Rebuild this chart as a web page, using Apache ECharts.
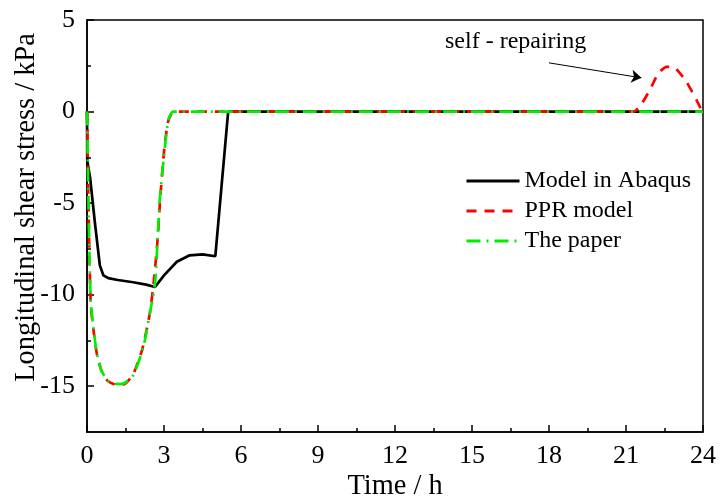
<!DOCTYPE html>
<html>
<head>
<meta charset="utf-8">
<script src="https://cdn.jsdelivr.net/npm/echarts@6/dist/echarts.min.js"></script>
<style>html,body{margin:0;padding:0;background:#fff}#c{width:721px;height:503px}</style>
</head>
<body>
<div id="c"></div>
<script>
// Time (h) / stress (kPa) pairs
var abaqusT = [0, 0.01, 0.12, 0.31, 0.5, 0.64, 0.83, 1.2, 1.8, 2.3, 2.65, 3.0, 3.5, 4.0, 4.5, 5.0, 5.5, 24];
var abaqusV = [0, -2.7, -3.6, -6.1, -8.4, -8.95, -9.1, -9.2, -9.32, -9.45, -9.58, -8.95, -8.2, -7.85, -7.8, -7.9, 0, 0];

var pprT = [0, 0.03, 0.06, 0.1, 0.15, 0.25, 0.38, 0.55, 0.8, 1.22, 1.5, 1.8, 2.15, 2.45, 2.6, 2.75, 2.85, 3.0, 3.15, 3.3, 3.5, 21.3, 21.6, 21.92, 22.26, 22.58, 22.84, 23.1, 23.36, 23.75, 24];
var pprV = [0, -2.4, -5.2, -8.2, -10.6, -11.9, -13.2, -14.1, -14.7, -14.96, -14.85, -14.35, -13.0, -11.0, -9.3, -7.0, -4.8, -2.2, -0.6, -0.1, 0, 0, 0.4, 1.16, 2.08, 2.44, 2.44, 2.1, 1.62, 0.62, -0.1];

var paperT = [0, 0.03, 0.06, 0.1, 0.15, 0.25, 0.38, 0.55, 0.8, 1.1, 1.41, 1.8, 2.19, 2.45, 2.65, 2.75, 2.84, 3.04, 3.17, 3.36, 24];
var paperV = [0, -2.5, -5.0, -8.0, -10.5, -11.8, -13.2, -14.1, -14.7, -14.88, -14.86, -14.4, -12.9, -11.0, -9.4, -7.0, -4.7, -1.9, -0.47, 0, 0];

var xTicks = [0, 3, 6, 9, 12, 15, 18, 21, 24];
var yTicks = [-15, -10, -5, 0, 5];
var yMinorTicks = [-12.5, -7.5, -2.5, 2.5];

var seriesNames = ['Model in Abaqus', 'PPR model', 'The paper'];
var annotationText = 'self - repairing';
var arrowFrom = [18.0, 2.66];
var arrowTo = [21.6, 1.84];

function pairs(t, v) { return t.map(function (x, i) { return [x, v[i]]; }); }

var FONT = 'Liberation Serif';
var chart = echarts.init(document.getElementById('c'), null, { renderer: 'canvas' });

chart.setOption({
  animation: false,
  backgroundColor: '#fff',
  textStyle: { fontFamily: FONT, color: '#000' },
  grid: { left: 87, right: 18, top: 20, bottom: 71, show: true, borderColor: '#000', borderWidth: 1.5, backgroundColor: 'transparent' },
  xAxis: {
    type: 'value', min: 0, max: 24, interval: 3,
    axisLine: { onZero: false, lineStyle: { color: '#000', width: 1.5 } },
    axisTick: { inside: true, length: 7, lineStyle: { color: '#000', width: 1.5 } },
    minorTick: { show: true, splitNumber: 2, length: 4, lineStyle: { color: '#000', width: 1.5 } },
    splitLine: { show: false },
    axisLabel: { fontFamily: FONT, fontSize: 26, color: '#000', margin: 11, customValues: xTicks }
  },
  yAxis: [{
    type: 'value', min: -17.5, max: 5,
    axisLine: { show: true, onZero: false, lineStyle: { color: '#000', width: 1.5 } },
    axisTick: { show: true, inside: true, length: 7, customValues: yTicks, lineStyle: { color: '#000', width: 1.5 } },
    splitLine: { show: false },
    axisLabel: { fontFamily: FONT, fontSize: 26, color: '#000', margin: 12, customValues: yTicks }
  }, {
    type: 'value', min: -17.5, max: 5, position: 'left',
    axisLine: { show: false },
    axisTick: { show: true, inside: true, length: 4, customValues: yMinorTicks, lineStyle: { color: '#000', width: 1.5 } },
    splitLine: { show: false },
    axisLabel: { show: false }
  }],
  legend: {
    orient: 'vertical', left: 460, top: 164,
    itemWidth: 53, itemHeight: 14, itemGap: 6,
    itemStyle: { opacity: 0 },
    lineStyle: { width: 3 },
    textStyle: { fontFamily: FONT, fontSize: 24, color: '#000' },
    data: seriesNames
  },
  series: [{
    name: seriesNames[0], type: 'line', showSymbol: false, symbol: 'none',
    data: pairs(abaqusT, abaqusV),
    lineStyle: { color: '#000', width: 2.7 }, itemStyle: { color: '#000' }, z: 2,
    markLine: {
      silent: true, animation: false,
      symbol: ['none', 'arrow'], symbolSize: 10,
      label: { show: false },
      lineStyle: { color: '#000', width: 1, type: 'solid' },
      emphasis: { disabled: true },
      data: [[{ coord: arrowFrom }, { coord: arrowTo }]]
    }
  }, {
    name: seriesNames[1], type: 'line', showSymbol: false, symbol: 'none',
    data: pairs(pprT, pprV), smooth: 0.2,
    lineStyle: { color: '#ff0000', width: 2.7, type: [10, 8] }, itemStyle: { color: '#ff0000' }, z: 3
  }, {
    name: seriesNames[2], type: 'line', showSymbol: false, symbol: 'none',
    data: pairs(paperT, paperV), smooth: 0.2,
    lineStyle: { color: '#00ee00', width: 2.7, type: [14, 6, 2, 6] }, itemStyle: { color: '#00ee00' }, z: 4
  }],
  graphic: [{
    type: 'text', left: 445, top: 30,
    style: { text: annotationText, font: '24px "Liberation Serif"', fill: '#000' }
  }, {
    type: 'text', x: 27, y: 207.5, rotation: Math.PI / 2,
    style: { text: 'Longitudinal shear stress / kPa', font: '28.4px "Liberation Serif"', fill: '#000', align: 'center', verticalAlign: 'middle' }
  }, {
    type: 'text', x: 395, y: 487,
    style: { text: 'Time / h', font: '28.4px "Liberation Serif"', fill: '#000', align: 'center', verticalAlign: 'middle' }
  }]
});
</script>
</body>
</html>
